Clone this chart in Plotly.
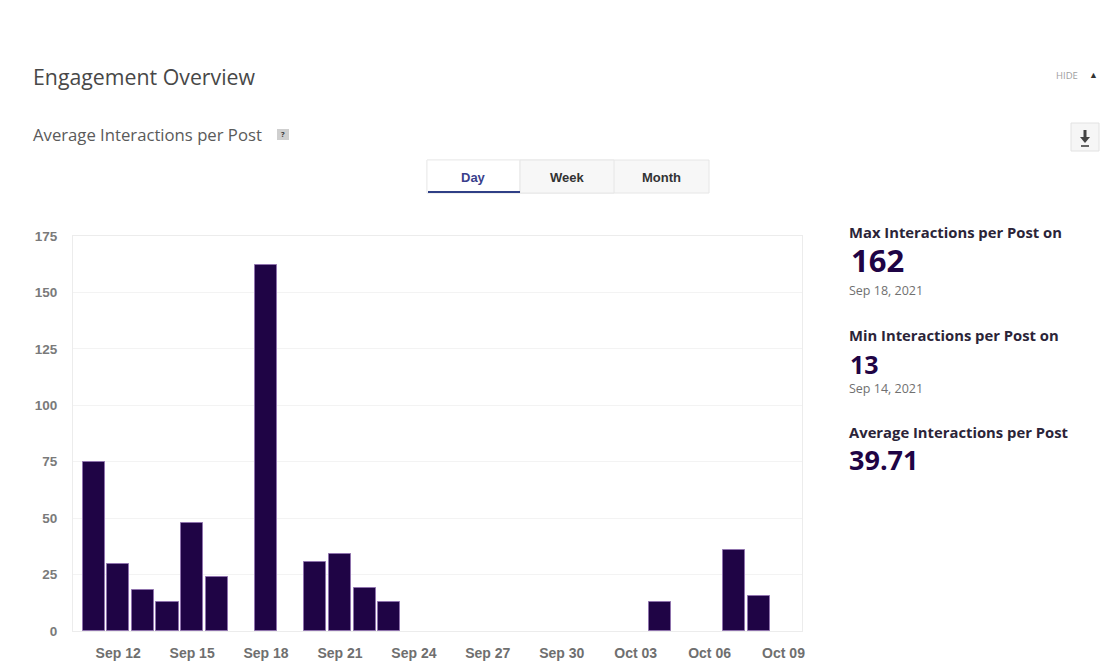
import plotly.graph_objects as go

dates = ["2021-09-11", "2021-09-12", "2021-09-13", "2021-09-14", "2021-09-15", "2021-09-16",
         "2021-09-18", "2021-09-20", "2021-09-21", "2021-09-22",
         "2021-09-23", "2021-10-04", "2021-10-07", "2021-10-08"]
values = [75, 29.5, 18, 13, 48, 24, 162, 30.5, 34, 19, 13, 13, 36, 15.5]
tick_dates = ["2021-09-12", "2021-09-15", "2021-09-18", "2021-09-21", "2021-09-24", "2021-09-27",
              "2021-09-30", "2021-10-03", "2021-10-06", "2021-10-09"]
tick_labels = ["Sep 12", "Sep 15", "Sep 18", "Sep 21", "Sep 24", "Sep 27",
               "Sep 30", "Oct 03", "Oct 06", "Oct 09"]
y_ticks = [0, 25, 50, 75, 100, 125, 150, 175]

W, H = 1102, 669
L, R, T, B = 73, 802, 236, 631
SANS = "Open Sans, Noto Sans, sans-serif"
ARIAL = "Liberation Sans, Arial, sans-serif"
INK = "#1f0445"


def px(x):
    return (x - L) / (R - L)


def py(y):
    return (B - y) / (B - T)


def text(x, y, s, size, color, family=SANS, anchor="left"):
    return dict(xref="paper", yref="paper", x=px(x), y=py(y), text=s, showarrow=False,
                xanchor=anchor, yanchor="middle", align=anchor,
                font=dict(size=size, color=color, family=family))


def rect(x0, y0, x1, y1, fill, line="rgba(0,0,0,0)", width=1):
    return dict(type="rect", xref="paper", yref="paper", x0=px(x0), x1=px(x1), y0=py(y0), y1=py(y1),
                fillcolor=fill, line=dict(color=line, width=width), layer="below")


fig = go.Figure(go.Bar(x=dates, y=values, width=21.5 * 3600 * 1000,
                       marker=dict(color=INK, line=dict(color="#8f73ad", width=1))))

annotations = [
    text(31, 76, "Engagement Overview", 21.3, "#484848"),
    text(31, 134, "Average Interactions per Post", 16.7, "#5a5a5a"),
    text(283, 134, "<b>?</b>", 7.5, "#333333", anchor="center"),
    text(1054, 75, "HIDE", 9.5, "#a0a0a0"),
    text(1093, 74, "▲", 9, "#333333", anchor="center"),
    text(473, 177, "<b>Day</b>", 13, "#3a3f8c", ARIAL, "center"),
    text(567, 177, "<b>Week</b>", 13, "#333333", ARIAL, "center"),
    text(661, 177, "<b>Month</b>", 13, "#333333", ARIAL, "center"),
    text(847, 232, "<b>Max Interactions per Post on</b>", 14.8, "#2b2438"),
    text(849, 260, "<b>162</b>", 31, INK),
    text(847, 290, "Sep 18, 2021", 12.5, "#707070"),
    text(847, 335, "<b>Min Interactions per Post on</b>", 14.8, "#2b2438"),
    text(848, 364, "<b>13</b>", 25, INK),
    text(847, 388.5, "Sep 14, 2021", 12.5, "#707070"),
    text(847, 432, "<b>Average Interactions per Post</b>", 14.8, "#2b2438"),
    text(847, 459, "<b>39.71</b>", 27, INK),
]

shapes = [
    rect(277, 129, 289, 140, "#cfcfcf"),
    rect(427, 160, 709, 193, "#f7f7f7", "#e6e6e6"),
    rect(427, 160, 520, 193, "#ffffff", "#ececec"),
    rect(520, 160, 614, 193, "#f7f7f7", "#e6e6e6"),
    rect(428, 191, 520, 193, "#2f3f86"),
    rect(1071, 123, 1099, 151, "#f6f6f6", "#e2e2e2"),
    rect(1083.5, 130, 1086.5, 138, "#444444"),
    rect(1081, 145, 1089, 147, "#666666"),
    dict(type="path", xref="paper", yref="paper", layer="below",
         path=f"M {px(1080)} {py(137)} L {px(1090)} {py(137)} L {px(1085)} {py(143)} Z",
         fillcolor="#444444", line=dict(width=0)),
]

fig.update_layout(
    width=W, height=H, autosize=False,
    margin=dict(l=L, r=W - R, t=T, b=H - B, pad=0),
    paper_bgcolor="#ffffff", plot_bgcolor="#ffffff",
    showlegend=False, bargap=0,
    annotations=annotations, shapes=shapes,
)
fig.update_xaxes(
    automargin=False,
    type="date", range=["2021-09-10 04:00", "2021-10-09 18:00"],
    tickmode="array", tickvals=tick_dates, ticktext=[f"<b>{t}</b>" for t in tick_labels],
    showgrid=False, zeroline=False, ticks="outside", ticklen=9, tickcolor="rgba(0,0,0,0)",
    showline=True, linecolor="#ececec", linewidth=1, mirror=True,
    tickfont=dict(family=ARIAL, size=14, color="#6f6f6f"),
)
fig.update_yaxes(
    automargin=False,
    range=[0, 175], tickmode="array", tickvals=y_ticks,
    ticktext=[f"<b>{v}</b>" for v in y_ticks],
    showgrid=True, gridcolor="#f3f3f3", gridwidth=1, zeroline=False,
    showline=True, linecolor="#ececec", linewidth=1, mirror=True, ticks="outside",
    ticklen=12, tickcolor="rgba(0,0,0,0)",
    tickfont=dict(family=ARIAL, size=13.5, color="#7a7a7a"),
)

fig.write_html("out.html", post_script="document.body.style.margin='0';",
               config=dict(displayModeBar=False))
